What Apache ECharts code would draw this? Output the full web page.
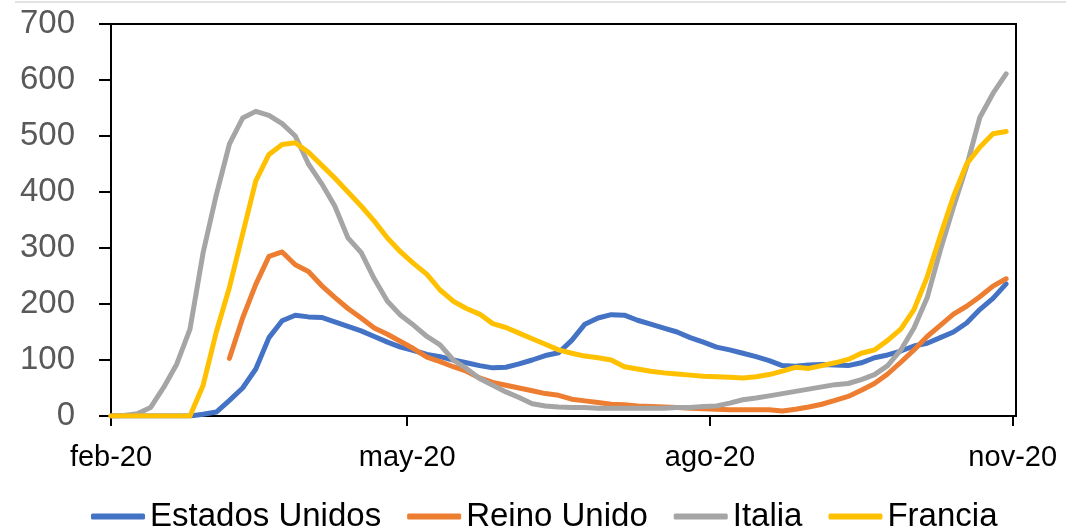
<!DOCTYPE html>
<html>
<head>
<meta charset="utf-8">
<script src="https://cdn.jsdelivr.net/npm/echarts@6/dist/echarts.min.js"></script>
<style>
html,body{margin:0;padding:0;background:#fff;}
#chart{width:1066px;height:529px;}
</style>
</head>
<body>
<div id="chart"></div>
<script>
// Sample dates (every 4 days from 1 Feb 2020)
const sampleDates = ['2020-02-01','2020-02-05','2020-02-09','2020-02-13','2020-02-17','2020-02-21','2020-02-25','2020-02-29',
'2020-03-04','2020-03-08','2020-03-12','2020-03-16','2020-03-20','2020-03-24','2020-03-28',
'2020-04-01','2020-04-05','2020-04-09','2020-04-13','2020-04-17','2020-04-21','2020-04-25','2020-04-29',
'2020-05-03','2020-05-07','2020-05-11','2020-05-15','2020-05-19','2020-05-23','2020-05-27','2020-05-31',
'2020-06-04','2020-06-08','2020-06-12','2020-06-16','2020-06-20','2020-06-24','2020-06-28',
'2020-07-02','2020-07-06','2020-07-10','2020-07-14','2020-07-18','2020-07-22','2020-07-26','2020-07-30',
'2020-08-03','2020-08-07','2020-08-11','2020-08-15','2020-08-19','2020-08-23','2020-08-27','2020-08-31',
'2020-09-04','2020-09-08','2020-09-12','2020-09-16','2020-09-20','2020-09-24','2020-09-28',
'2020-10-02','2020-10-06','2020-10-10','2020-10-14','2020-10-18','2020-10-22','2020-10-26','2020-10-30'];

const estadosUnidos = [0,0,0,0,0,0,0,
  3,7,28,50,84,140,170,180,177,176,
  168,160,152,142,132,123,117,110,106,100,
  95,90,86,87,93,100,108,113,135,164,
  175,181,180,171,164,157,150,140,132,123,
  118,112,106,99,90,89,91,92,91,90,
  95,104,109,116,125,130,140,150,166,190,
  210,236];

const reinoUnido = [null,null,null,null,null,null,null,null,null,
  103,175,235,285,293,270,258,233,212,192,
  175,157,146,133,120,105,97,88,80,68,
  60,55,50,45,40,37,30,27,24,21,
  20,18,17,16,15,14,13,12,11,11,
  11,11,9,12,16,21,28,35,46,58,
  75,96,118,142,162,182,196,213,232,245];

const italia = [0,1,4,15,51,93,155,292,395,486,
  532,544,537,522,500,450,415,375,318,292,
  245,205,180,162,142,127,100,85,67,55,
  43,33,22,18,16,15,15,14,14,14,
  14,14,14,15,15,17,18,23,29,32,
  36,40,44,48,52,56,58,65,74,90,
  118,157,211,296,373,446,533,576,611];

const francia = [0,0,0,0,0,0,0,
  55,150,230,325,420,467,485,488,471,448,
  425,400,375,348,318,293,272,253,225,205,
  192,182,165,158,148,138,128,118,112,107,
  104,100,88,84,80,77,75,73,71,70,
  69,68,70,74,80,87,85,90,95,101,
  112,118,135,155,190,248,322,392,450,480,
  504,508];

const seriesNames = ['Estados Unidos','Reino Unido','Italia','Francia'];
const seriesColors = ['#4472C4','#ED7D31','#A5A5A5','#FFC000'];
const tickDates = ['2020-02-01','2020-05-01','2020-08-01','2020-11-01'];
const tickLabels = ['feb-20','may-20','ago-20','nov-20'];
const axisStart = '2020-02-01';
const axisEnd = '2020-11-02';

const toTime = d => Date.UTC(+d.slice(0,4), +d.slice(5,7) - 1, +d.slice(8,10));
const allValues = [estadosUnidos, reinoUnido, italia, francia];
const tickTimes = tickDates.map(toTime);

const chart = echarts.init(document.getElementById('chart'));
const FONT = '"Liberation Sans", Arial, sans-serif';

chart.setOption({
  animation: false,
  backgroundColor: '#fff',
  graphic: [{
    type: 'line', shape: {x1: 15, y1: 2, x2: 1066, y2: 2},
    style: {stroke: '#d9d9d9', lineWidth: 1.5}, silent: true
  }],
  grid: {left: 111, right: 50, top: 24, bottom: 113, show: true, borderColor: '#000', borderWidth: 2, backgroundColor: 'transparent'},
  legend: {
    data: seriesNames,
    left: 91, top: 500, padding: 0,
    itemWidth: 54, itemHeight: 6, itemGap: 26,
    icon: 'roundRect',
    textStyle: {fontFamily: FONT, fontSize: 33, color: '#000'}
  },
  xAxis: {
    type: 'value',
    min: toTime(axisStart), max: toTime(axisEnd),
    axisLine: {show: true, onZero: false, lineStyle: {color: '#000', width: 2}},
    axisTick: {show: true, length: 10, lineStyle: {color: '#000', width: 2}, customValues: tickTimes},
    axisLabel: {
      customValues: tickTimes,
      margin: 27,
      fontFamily: FONT, fontSize: 29, color: '#000',
      formatter: function (val) {
        const i = tickTimes.indexOf(val);
        return i >= 0 ? tickLabels[i] : '';
      }
    },
    splitLine: {show: false}
  },
  yAxis: {
    type: 'value', min: 0, max: 700, interval: 100,
    axisLine: {show: true, lineStyle: {color: '#000', width: 2}},
    axisTick: {show: true, length: 12, lineStyle: {color: '#000', width: 2}},
    axisLabel: {margin: 36, fontFamily: FONT, fontSize: 33, color: '#595959'},
    splitLine: {show: false}
  },
  series: seriesNames.map((name, si) => ({
    name: name,
    type: 'line',
    showSymbol: false,
    symbol: 'none',
    connectNulls: false,
    color: seriesColors[si],
    lineStyle: {width: 5, color: seriesColors[si], cap: 'round', join: 'round'},
    data: sampleDates.map((d, i) => [toTime(d), allValues[si][i]])
  }))
});
</script>
</body>
</html>
